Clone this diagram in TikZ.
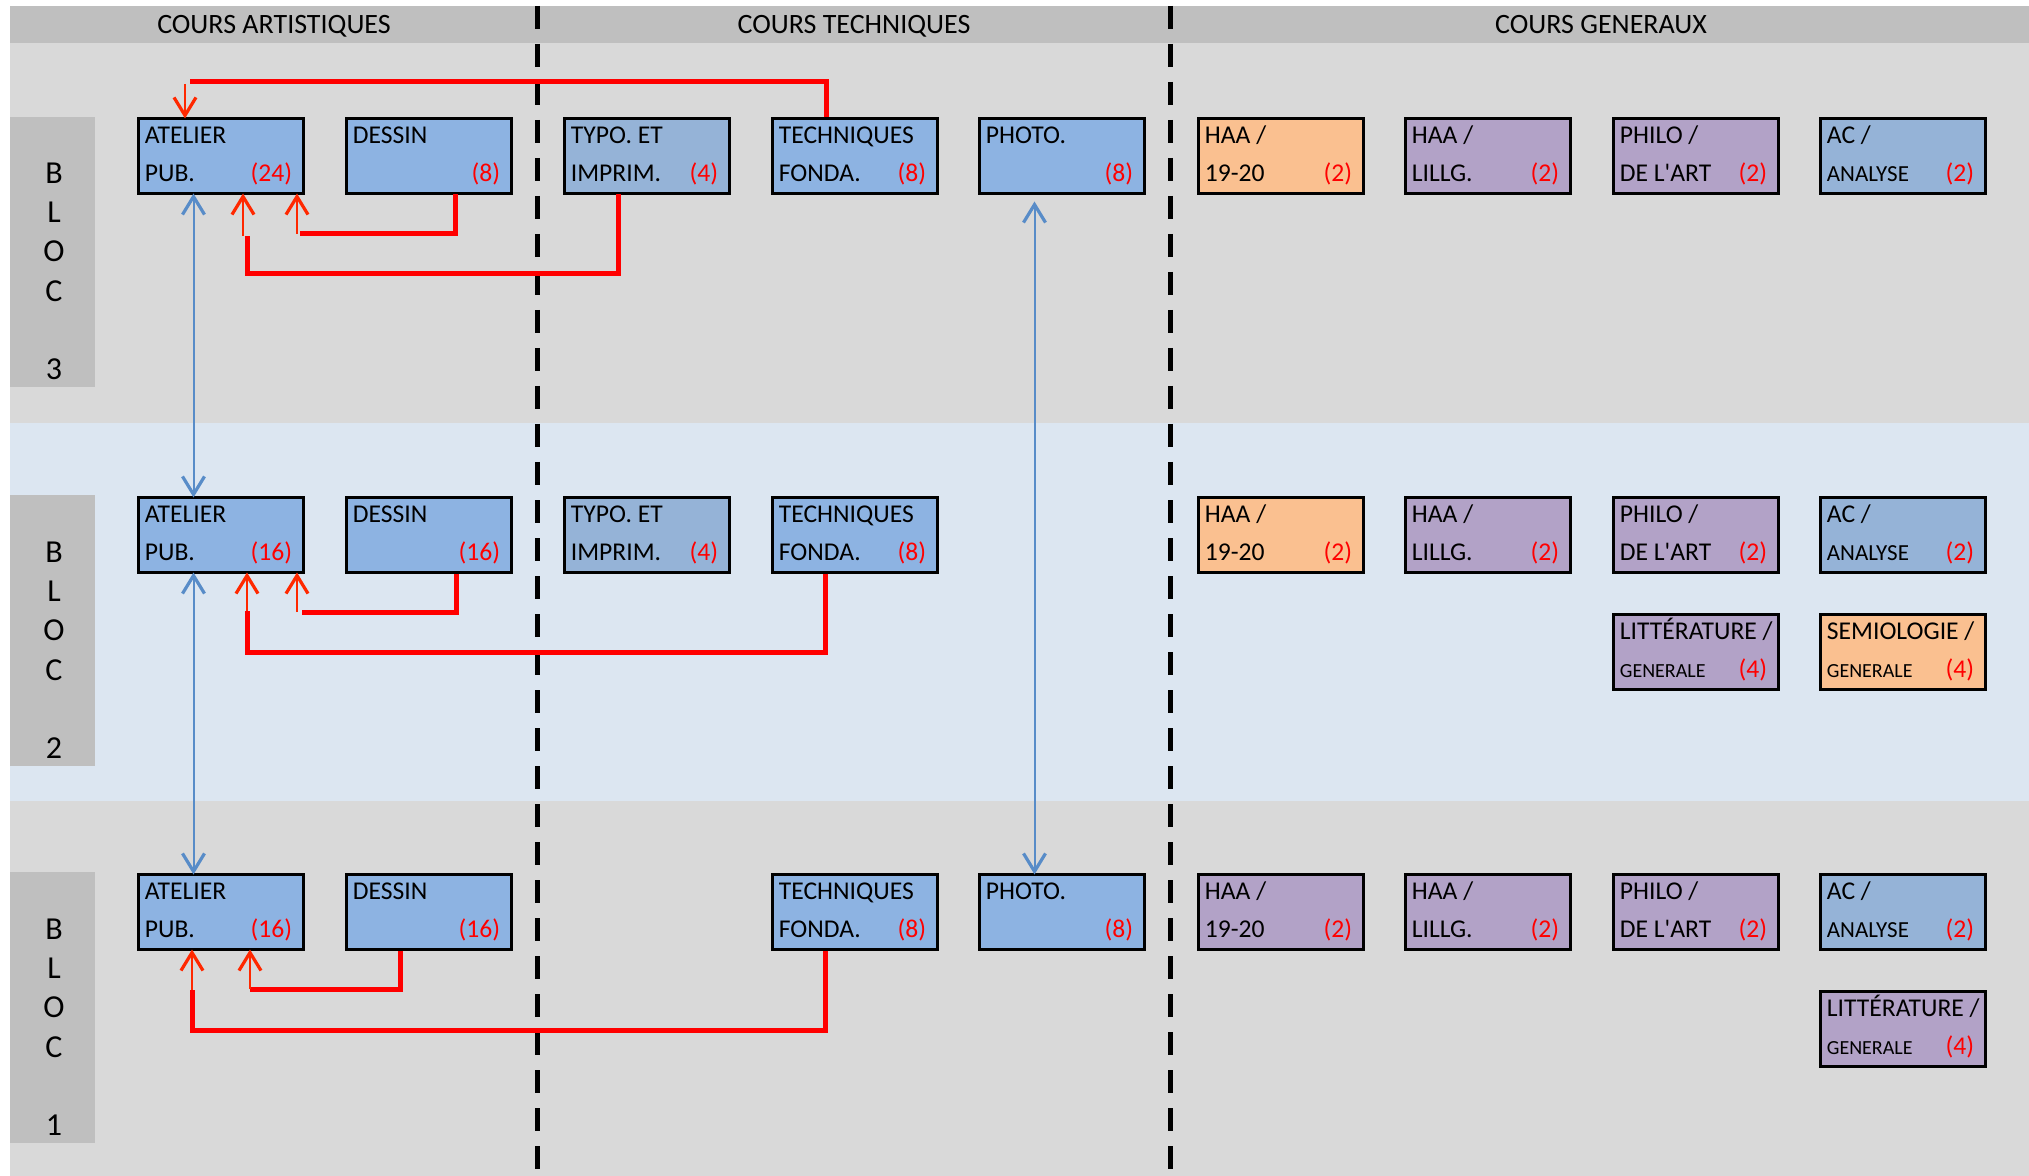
\documentclass[tikz,border=0pt]{standalone}
\usepackage{fontspec}
\setmainfont{Carlito}
\usetikzlibrary{arrows.meta,calc}

\definecolor{hdr}{HTML}{BFBFBF}
\definecolor{band}{HTML}{D9D9D9}
\definecolor{bandb}{HTML}{DCE6F1}
\definecolor{bblue}{HTML}{8DB3E2}
\definecolor{gblue}{HTML}{95B3D7}
\definecolor{orng}{HTML}{FAC090}
\definecolor{purp}{HTML}{B2A2C7}
\definecolor{lnblue}{RGB}{88,140,200}
\definecolor{arrred}{RGB}{255,40,0}

\newcommand\boxfont{\fontsize{12.8pt}{14pt}\selectfont}
\newcommand\smallA{\fontsize{11.5pt}{13pt}\selectfont}
\newcommand\smallG{\fontsize{10pt}{12pt}\selectfont}
\newcommand\blocfont{\fontsize{16pt}{18pt}\selectfont}
\newcommand\hdrfont{\fontsize{14pt}{16pt}\selectfont}

\tikzset{
  cbox/.style={draw=black, line width=1.5pt, minimum width=82.5pt, minimum height=37.5pt,
    inner sep=0pt, outer sep=0pt, anchor=north west},
  tx/.style={anchor=base west, inner sep=0pt},
  nm/.style={anchor=base east, inner sep=0pt, text=red},
  rthick/.style={draw=red, line width=2.5pt},
  rarr/.style={draw=arrred, line width=1pt, -{Straight Barb[length=9pt,width=11pt,line width=1.6pt]}},
  barr/.style={draw=lnblue, line width=1pt,
    {Straight Barb[length=9pt,width=11pt,line width=1.6pt]}-{Straight Barb[length=9pt,width=11pt,line width=1.6pt]}},
  dline/.style={draw=black, line width=2.5pt, dash pattern=on 11.5pt off 7.5pt},
  bletter/.style={anchor=base, inner sep=0pt, font=\blocfont},
  htext/.style={anchor=base, inner sep=0pt, font=\hdrfont}
}

\newcommand\cb[7]{%
  \node[cbox, fill=#4] (#1) at (#2+1.5,#3+1.5) {};
  \node[tx] (#1-a) at ($(#1.north west)+(6,25)$) {#5};
  \node[tx] (#1-b) at ($(#1.south west)+(6,-12)$) {#6};
  \node[nm] (#1-n) at ($(#1.south east)+(-11,-12)$) {#7};
}

\begin{document}
\begin{tikzpicture}[x=0.5pt, y=-0.5pt, font=\boxfont]
\useasboundingbox (0,0) rectangle (2029,1176);
\fill[white] (0,0) rectangle (2029,1176);
% bands
\fill[hdr] (10,6) rectangle (2029,43);
\fill[band] (10,43) rectangle (2029,423);
\fill[bandb] (10,423) rectangle (2029,801);
\fill[band] (10,801) rectangle (2029,1176);
% bloc labels
\fill[hdr] (10,117) rectangle (95,387);
\fill[hdr] (10,495) rectangle (95,766);
\fill[hdr] (10,872) rectangle (95,1143);
\foreach \t/\b in {117/3, 495/2, 872/1}{
  \node[bletter] (bl\b-1) at (54,\t+67) {B};
  \node[bletter] (bl\b-2) at (54,\t+106) {L};
  \node[bletter] (bl\b-3) at (54,\t+145) {O};
  \node[bletter] (bl\b-4) at (54,\t+185) {C};
  \node[bletter] (bl\b-5) at (54,\t+263) {\b};
}
% headers
\node[htext] (h1) at (274,34) {COURS ARTISTIQUES};
\node[htext] (h2) at (854,34) {COURS TECHNIQUES};
\node[htext] (h3) at (1601,34) {COURS GENERAUX};
% dashed separators
\draw[dline] (537,6) -- (537,1176);
\draw[dline] (1170,6) -- (1170,1176);

% ---- boxes row 3
\cb{atl3}{137}{117}{bblue}{ATELIER}{PUB.}{(24)}
\cb{des3}{345}{117}{bblue}{DESSIN}{}{(8)}
\cb{typ3}{563}{117}{gblue}{TYPO. ET}{IMPRIM.}{(4)}
\cb{tec3}{771}{117}{bblue}{TECHNIQUES}{FONDA.}{(8)}
\cb{pho3}{978}{117}{bblue}{PHOTO.}{}{(8)}
\cb{haa3}{1197}{117}{orng}{HAA /}{19-20}{(2)}
\cb{lil3}{1404}{117}{purp}{HAA /}{LILLG.}{(2)}
\cb{phi3}{1612}{117}{purp}{PHILO /}{DE L\textquotesingle ART}{(2)}
\cb{ac3}{1819}{117}{gblue}{AC /}{\smallA ANALYSE}{(2)}
% ---- boxes row 2
\cb{atl2}{137}{496}{bblue}{ATELIER}{PUB.}{(16)}
\cb{des2}{345}{496}{bblue}{DESSIN}{}{(16)}
\cb{typ2}{563}{496}{gblue}{TYPO. ET}{IMPRIM.}{(4)}
\cb{tec2}{771}{496}{bblue}{TECHNIQUES}{FONDA.}{(8)}
\cb{haa2}{1197}{496}{orng}{HAA /}{19-20}{(2)}
\cb{lil2}{1404}{496}{purp}{HAA /}{LILLG.}{(2)}
\cb{phi2}{1612}{496}{purp}{PHILO /}{DE L\textquotesingle ART}{(2)}
\cb{ac2}{1819}{496}{gblue}{AC /}{\smallA ANALYSE}{(2)}
\cb{lit2}{1612}{613}{purp}{LITTÉRATURE /}{\smallG GENERALE}{(4)}
\cb{sem2}{1819}{613}{orng}{SEMIOLOGIE /}{\smallG GENERALE}{(4)}
% ---- boxes row 1
\cb{atl1}{137}{873}{bblue}{ATELIER}{PUB.}{(16)}
\cb{des1}{345}{873}{bblue}{DESSIN}{}{(16)}
\cb{tec1}{771}{873}{bblue}{TECHNIQUES}{FONDA.}{(8)}
\cb{pho1}{978}{873}{bblue}{PHOTO.}{}{(8)}
\cb{haa1}{1197}{873}{purp}{HAA /}{19-20}{(2)}
\cb{lil1}{1404}{873}{purp}{HAA /}{LILLG.}{(2)}
\cb{phi1}{1612}{873}{purp}{PHILO /}{DE L\textquotesingle ART}{(2)}
\cb{ac1}{1819}{873}{gblue}{AC /}{\smallA ANALYSE}{(2)}
\cb{lit1}{1819}{990}{purp}{LITTÉRATURE /}{\smallG GENERALE}{(4)}

% ---- blue links
\draw[barr] ($(atl3.south west)+(55,0)$) -- ($(atl2.north west)+(55,0)$);
\draw[barr] ($(atl2.south west)+(55,0)$) -- ($(atl1.north west)+(55,0)$);
\draw[barr, shorten <=4pt] ($(pho3.south west)+(55,0)$) -- ($(pho1.north west)+(55,0)$);

% ---- red links bloc 3
\coordinate (t3) at ($(tec3.north west)+(54,-1)$);
\coordinate (k1) at (190,82);
\coordinate (k1b) at (185,84);
\draw[rthick] (t3) |- (k1);
\draw[rarr] (k1b) -- (k1b |- atl3.north);

\coordinate (d3) at ($(des3.south west)+(109,1)$);
\coordinate (k2) at (300,234);
\coordinate (k2b) at (297,234);
\draw[rthick] (d3) |- (k2);
\draw[rarr] (k2b) -- (k2b |- atl3.south);

\coordinate (y3) at ($(typ3.south west)+(54,1)$);
\coordinate (k3) at (247,274);
\coordinate (k3t) at (247,236);
\coordinate (k3b) at (243,236);
\draw[rthick] (y3) |- (k3) -- (k3t);
\draw[rarr] (k3b) -- (k3b |- atl3.south);

% ---- red links bloc 2
\coordinate (d2) at ($(des2.south west)+(110,1)$);
\coordinate (k4) at (302,612);
\coordinate (k4b) at (297,612);
\draw[rthick] (d2) |- (k4);
\draw[rarr] (k4b) -- (k4b |- atl2.south);

\coordinate (t2) at ($(tec2.south west)+(53,1)$);
\coordinate (k5) at (247,652);
\coordinate (k5t) at (247,611);
\draw[rthick] (t2) |- (k5) -- (k5t);
\draw[rarr] (k5t) -- (k5t |- atl2.south);

% ---- red links bloc 1
\coordinate (d1) at ($(des1.south west)+(54,1)$);
\coordinate (k6) at (250,989);
\draw[rthick] (d1) |- (k6);
\draw[rarr] (k6) -- (k6 |- atl1.south);

\coordinate (t1) at ($(tec1.south west)+(53,1)$);
\coordinate (k7) at (192,1030);
\coordinate (k7t) at (192,990);
\draw[rthick] (t1) |- (k7) -- (k7t);
\draw[rarr] (k7t) -- (k7t |- atl1.south);
\end{tikzpicture}
\end{document}
